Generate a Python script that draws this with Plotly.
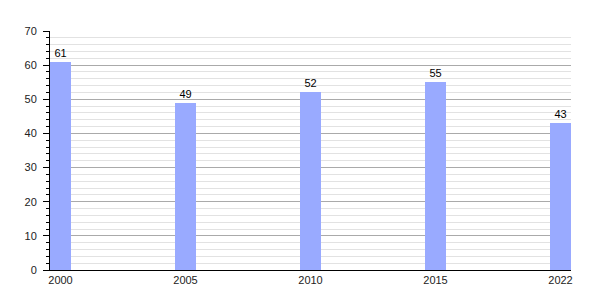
import plotly.graph_objects as go

years = ["2000", "2005", "2010", "2015", "2022"]
values = [61, 49, 52, 55, 43]
y_ticks = [0, 10, 20, 30, 40, 50, 60, 70]

xpos = list(range(len(years)))

fig = go.Figure()
fig.add_trace(go.Bar(
    x=xpos, y=values, width=0.168,
    marker=dict(color="#99aaff", line=dict(width=0)),
    text=[str(v) for v in values], textposition="outside",
    textfont=dict(family="Liberation Sans, Arial", size=11, color="#000"),
    cliponaxis=False,
))

fig.update_layout(
    width=600, height=300,
    margin=dict(l=50, r=29, t=31, b=30),
    paper_bgcolor="white", plot_bgcolor="white",
    showlegend=False,
    font=dict(family="Liberation Sans, Arial", size=11, color="#222"),
    bargap=0,
)
fig.update_xaxes(
    range=[-0.084, 4.084], tickvals=xpos, ticktext=years,
    showgrid=False, showline=True, linecolor="#000", linewidth=1,
    ticks="", zeroline=False, fixedrange=True,
)
fig.update_yaxes(
    range=[0, 70], tickvals=y_ticks,
    showgrid=True, gridcolor="#aaaaaa", gridwidth=1,
    showline=True, linecolor="#000", linewidth=1,
    ticks="outside", ticklen=6, tickcolor="#000", ticklabelstandoff=4,
    minor=dict(dtick=2, showgrid=True, gridcolor="#e2e2e2", ticks="outside", ticklen=3, tickcolor="#000"),
    zeroline=False, fixedrange=True,
)

fig.write_html("out.html")
